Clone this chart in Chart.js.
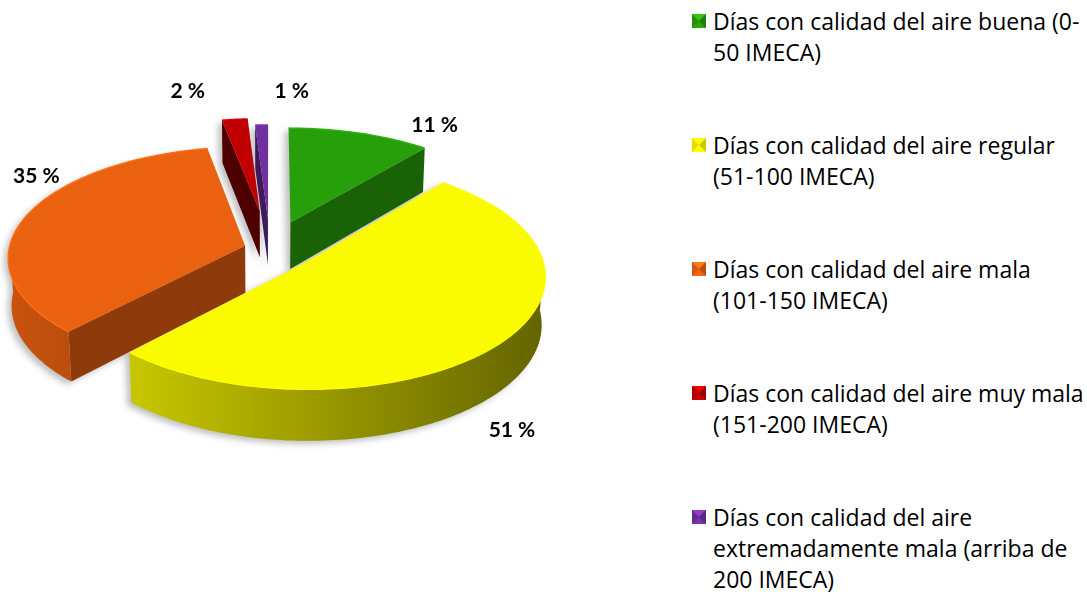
<!DOCTYPE html>
<html>
<head>
<meta charset="utf-8">
<script src="https://cdn.jsdelivr.net/npm/chart.js@4.4.0/dist/chart.umd.min.js"></script>
<style>
    html, body { margin: 0; padding: 0; background: #fff; width: 1087px; height: 592px; overflow: hidden; }
    #chartWrap { position: absolute; left: 0; top: 0; width: 600px; height: 592px; }
    #legend { position: absolute; left: 692px; top: 6px; font-family: 'Open Sans', Lato, sans-serif; font-size: 23px; line-height: 31px; color: #000; }
    .item { position: relative; padding-left: 21px; margin-bottom: 62px; white-space: nowrap; }
    .box { position: absolute; left: 0; top: 8px; width: 0; height: 0; border-style: solid; border-width: 7px; }
</style>
</head>
<body>
<div id="chartWrap"><canvas id="imecaChart"></canvas></div>
<div id="legend"></div>
<script>
// Categories (legend text, one entry per line)
const categories = [
    ['Días con calidad del aire buena (0-', '50 IMECA)'],
    ['Días con calidad del aire regular', '(51-100 IMECA)'],
    ['Días con calidad del aire mala', '(101-150 IMECA)'],
    ['Días con calidad del aire muy mala', '(151-200 IMECA)'],
    ['Días con calidad del aire', 'extremadamente mala (arriba de', '200 IMECA)']
];

// Share of days, in percent
const percentages = [11, 51, 35, 2, 1];

// Colors of each slice
const topColors = ['#279f0b', '#fafa00', '#ea6110', '#c00000', '#7030a0'];
const sideColors = ['#1a6206', '#8a8700', '#8e3a0b', '#4e0000', '#3e1a5c'];

// 3D look: explosion of each slice and label nudges (pixels)
const explode = [62, 45, 26, 85, 67];
const labelShift = [[75, -8], [12, 87], [10, -40], [-47, -28], [30, -34]];

// Camera for the tilted pie
const view = { sin: 0.465, cos: 0.885, dist: 1970, depth: 54 };

function shade(hex, k) {
    const n = parseInt(hex.slice(1), 16);
    const r = Math.round(((n >> 16) & 255) * k);
    const g = Math.round(((n >> 8) & 255) * k);
    const b = Math.round((n & 255) * k);
    return `rgb(${Math.min(r, 255)}, ${Math.min(g, 255)}, ${Math.min(b, 255)})`;
}

// Build legend
const legend = document.getElementById('legend');
categories.forEach((lines, i) => {
    const item = document.createElement('div');
    item.className = 'item';
    const box = document.createElement('span');
    box.className = 'box';
    box.style.borderTopColor = shade(topColors[i], 1.25);
    box.style.borderLeftColor = shade(topColors[i], 0.9);
    box.style.borderRightColor = shade(topColors[i], 0.8);
    box.style.borderBottomColor = shade(topColors[i], 1.05);
    item.appendChild(box);
    item.appendChild(document.createTextNode(lines[0]));
    for (let j = 1; j < lines.length; j++) {
        item.appendChild(document.createElement('br'));
        item.appendChild(document.createTextNode(lines[j]));
    }
    legend.appendChild(item);
});

// Project a point of the pie (u right, v away from viewer, h height) to the screen
function project(cx, cy, u, v, h) {
    const z = view.dist + v * view.cos - h * view.sin;
    const f = view.dist / z;
    return [cx + u * f, cy - (v * view.sin + h * view.cos) * f];
}

const pie3d = {
    id: 'pie3d',
    beforeDatasetsDraw(chart) {
        const ctx = chart.ctx;
        const arcs = chart.getDatasetMeta(0).data;
        const cx = arcs[0].x, cy = arcs[0].y, R = arcs[0].outerRadius;
        const H = view.depth;

        const slices = arcs.map((arc, i) => {
            const mid = (arc.startAngle + arc.endAngle) / 2;
            const e = explode[i];
            return { i, a0: arc.startAngle, a1: arc.endAngle, mid, ou: e * Math.cos(mid), ov: -e * Math.sin(mid) };
        });

        const rim = (s, a, h) => project(cx, cy, s.ou + R * Math.cos(a), s.ov - R * Math.sin(a), h);
        const apex = (s, h) => project(cx, cy, s.ou, s.ov, h);

        function topPath(c, s) {
            c.beginPath();
            c.moveTo(...apex(s, 0));
            const n = Math.max(4, Math.ceil((s.a1 - s.a0) / 0.02));
            for (let k = 0; k <= n; k++) c.lineTo(...rim(s, s.a0 + (s.a1 - s.a0) * k / n, 0));
            c.closePath();
        }
        function rimPath(c, s) {
            c.beginPath();
            const n = Math.max(4, Math.ceil((s.a1 - s.a0) / 0.02));
            for (let k = 0; k <= n; k++) c.lineTo(...rim(s, s.a0 + (s.a1 - s.a0) * k / n, 0));
        }
        function outerPath(c, s, lo, hi) {
            c.beginPath();
            const n = Math.max(4, Math.ceil((hi - lo) / 0.02));
            for (let k = 0; k <= n; k++) c.lineTo(...rim(s, lo + (hi - lo) * k / n, 0));
            for (let k = n; k >= 0; k--) c.lineTo(...rim(s, lo + (hi - lo) * k / n, -H));
            c.closePath();
        }
        function radialPath(c, s, a) {
            c.beginPath();
            c.moveTo(...apex(s, 0));
            c.lineTo(...rim(s, a, 0));
            c.lineTo(...rim(s, a, -H));
            c.lineTo(...apex(s, -H));
            c.closePath();
        }
        function fullPaths(c, s) {
            topPath(c, s); c.fill();
            radialPath(c, s, s.a0); c.fill();
            radialPath(c, s, s.a1); c.fill();
            const lo = Math.max(s.a0, 0), hi = Math.min(s.a1, Math.PI);
            if (lo < hi) { outerPath(c, s, lo, hi); c.fill(); }
        }

        // far slices first
        slices.sort((p, q) => (q.ov - 0.5 * R * Math.sin(q.mid)) - (p.ov - 0.5 * R * Math.sin(p.mid)));

        // soft shadow
        const off = document.createElement('canvas');
        off.width = chart.width; off.height = chart.height;
        const oc = off.getContext('2d');
        oc.fillStyle = '#000';
        slices.forEach(s => fullPaths(oc, s));
        ctx.save();
        ctx.globalAlpha = 0.25;
        ctx.filter = 'blur(3px)';
        ctx.drawImage(off, -4, 3);
        ctx.restore();

        slices.forEach(s => {
            const i = s.i;
            ctx.save();
            // cut faces
            if (Math.cos(s.a0) < 0) { radialPath(ctx, s, s.a0); ctx.fillStyle = sideColors[i]; ctx.fill(); }
            if (Math.cos(s.a1) > 0) { radialPath(ctx, s, s.a1); ctx.fillStyle = sideColors[i]; ctx.fill(); }
            // curved outer wall (front half only)
            const lo = Math.max(s.a0, 0), hi = Math.min(s.a1, Math.PI);
            if (lo < hi) {
                const xl = rim(s, Math.PI, 0)[0], xr = rim(s, 0, 0)[0];
                const g = ctx.createLinearGradient(xl, 0, xr, 0);
                g.addColorStop(0, shade(topColors[i], 0.86));
                g.addColorStop(1, shade(topColors[i], 0.4));
                outerPath(ctx, s, lo, hi);
                ctx.fillStyle = g;
                ctx.fill();
            }
            // top face with a light bevel on the rim
            topPath(ctx, s);
            ctx.fillStyle = topColors[i];
            ctx.fill();
            rimPath(ctx, s);
            ctx.strokeStyle = shade(topColors[i], 1.12);
            ctx.lineWidth = 1.5;
            ctx.stroke();
            ctx.restore();
        });

        // percent labels
        ctx.save();
        ctx.font = 'bold 21px Lato, sans-serif';
        ctx.fillStyle = '#000';
        ctx.textAlign = 'center';
        ctx.textBaseline = 'middle';
        slices.forEach(s => {
            const p = project(cx, cy, s.ou + R * Math.cos(s.mid), s.ov - R * Math.sin(s.mid), 0);
            ctx.fillText(percentages[s.i] + ' %', p[0] + labelShift[s.i][0], p[1] + labelShift[s.i][1]);
        });
        ctx.restore();
        return false;
    }
};

const ctx = document.getElementById('imecaChart').getContext('2d');
new Chart(ctx, {
    type: 'pie',
    data: {
        labels: categories.map(l => l.join(' ')),
        datasets: [{
            data: percentages,
            backgroundColor: topColors,
            borderWidth: 0
        }]
    },
    options: {
        responsive: true,
        maintainAspectRatio: false,
        animation: false,
        layout: { padding: { left: 32, right: 92, top: 13, bottom: 107 } },
        plugins: {
            legend: { display: false },
            tooltip: { enabled: false }
        }
    },
    plugins: [pie3d]
});
</script>
</body>
</html>
